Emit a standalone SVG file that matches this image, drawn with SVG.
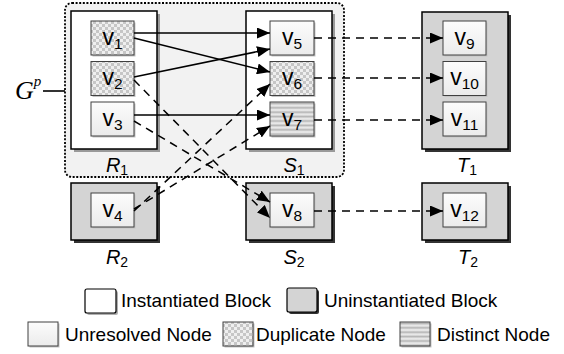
<svg xmlns="http://www.w3.org/2000/svg" width="564" height="354" viewBox="0 0 564 354">
<defs>
<style>
text{font-family:"Liberation Sans",Arial,sans-serif;fill:#000}
.blkI{fill:#fff;stroke:#000;stroke-width:1.5}
.blkU{fill:#d4d4d4;stroke:#000;stroke-width:1.5}
.shI{fill:#9a9a9a}
.shU{fill:#333}
.nsh{fill:#c4c4c4}
.nU{fill:url(#gU);stroke:#404040;stroke-width:1}
.nD{fill:url(#pD);stroke:#404040;stroke-width:1}
.nS{fill:url(#pS);stroke:#404040;stroke-width:1}
.vt{font-size:23px;text-anchor:middle}
.sub{font-size:15.5px}
.bl{font-size:20px;text-anchor:middle}
.bl .it{font-style:italic}
.bl .s{font-size:14px;font-style:normal}
.lg{font-size:19px}
.c{fill:none;stroke:#000;stroke-width:1.5}
.cs{marker-end:url(#ah)}
.cd{stroke-dasharray:8,6;marker-end:url(#ah)}
</style>
<linearGradient id="gU" x1="0" y1="0" x2="0" y2="1">
<stop offset="0" stop-color="#fcfcfc"/>
<stop offset="1" stop-color="#ebebeb"/>
</linearGradient>
<pattern id="pD" width="6" height="6" patternUnits="userSpaceOnUse">
<rect width="6" height="6" fill="#efefef"/>
<rect width="3" height="3" fill="#c6c6c6"/>
<rect x="3" y="3" width="3" height="3" fill="#c6c6c6"/>
</pattern>
<linearGradient id="gS" x1="0" y1="0" x2="0" y2="1">
<stop offset="0" stop-color="#f4f4f4"/>
<stop offset="0.5" stop-color="#b4b4b4"/>
<stop offset="1" stop-color="#f4f4f4"/>
</linearGradient>
<pattern id="pS" width="8" height="4.4" patternUnits="userSpaceOnUse">
<rect width="8" height="4.4" fill="url(#gS)"/>
</pattern>
<marker id="ah" markerUnits="userSpaceOnUse" markerWidth="13" markerHeight="11" refX="13" refY="5.5" orient="auto">
<path d="M0,0 L13,5.5 L0,11 z" fill="#000"/>
</marker>
</defs>

<g id="Gp">
<rect x="65" y="3" width="279" height="174" rx="7" fill="#f2f2f2" stroke="#000" stroke-width="1.8" stroke-dasharray="2,1.6"/>
<line x1="43" y1="91" x2="65" y2="91" stroke="#000" stroke-width="1.6"/>
<text x="15" y="99" style="font-family:'Liberation Serif','Times New Roman',serif;font-style:italic;font-size:26px">G<tspan dy="-13" font-size="15">p</tspan></text>
</g>

<!-- blocks -->
<g id="R1">
<rect class="shI" x="74" y="14" width="86" height="138"/>
<rect class="blkI" x="71" y="11" width="86" height="138"/>
<text class="bl" x="117" y="172"><tspan class="it">R</tspan><tspan class="s" dy="3">1</tspan></text>
</g>
<g id="S1">
<rect class="shI" x="249" y="14" width="86" height="138"/>
<rect class="blkI" x="246" y="11" width="86" height="138"/>
<text class="bl" x="294" y="172"><tspan class="it">S</tspan><tspan class="s" dy="3">1</tspan></text>
</g>
<g id="T1">
<rect class="shU" x="425" y="15" width="86" height="137"/>
<rect class="blkU" x="422" y="12" width="86" height="137"/>
<text class="bl" x="467" y="172"><tspan class="it">T</tspan><tspan class="s" dy="3">1</tspan></text>
</g>
<g id="R2">
<rect class="shU" x="74" y="186" width="86" height="57"/>
<rect class="blkU" x="71" y="183" width="86" height="57"/>
<text class="bl" x="117" y="264"><tspan class="it">R</tspan><tspan class="s" dy="3">2</tspan></text>
</g>
<g id="S2">
<rect class="shU" x="249" y="186" width="86" height="57"/>
<rect class="blkU" x="246" y="183" width="86" height="57"/>
<text class="bl" x="294" y="264"><tspan class="it">S</tspan><tspan class="s" dy="3">2</tspan></text>
</g>
<g id="T2">
<rect class="shU" x="425" y="186" width="86" height="57"/>
<rect class="blkU" x="422" y="183" width="86" height="57"/>
<text class="bl" x="468" y="264"><tspan class="it">T</tspan><tspan class="s" dy="3">2</tspan></text>
</g>

<!-- nodes -->
<g id="v1"><rect class="nsh" x="92.5" y="22.5" width="43" height="34"/><rect class="nD" x="91" y="21" width="43" height="34"/><text class="vt" x="112.5" y="44.5">v<tspan class="sub" dy="4">1</tspan></text></g>
<g id="v2"><rect class="nsh" x="92.5" y="63" width="43" height="34"/><rect class="nD" x="91" y="61.5" width="43" height="34"/><text class="vt" x="112.5" y="85">v<tspan class="sub" dy="4">2</tspan></text></g>
<g id="v3"><rect class="nsh" x="92.5" y="103.5" width="43" height="34"/><rect class="nU" x="91" y="102" width="43" height="34"/><text class="vt" x="112.5" y="125.5">v<tspan class="sub" dy="4">3</tspan></text></g>
<g id="v4"><rect class="nsh" x="92.5" y="194.5" width="43" height="34"/><rect class="nU" x="91" y="193" width="43" height="34"/><text class="vt" x="112.5" y="216.5">v<tspan class="sub" dy="4">4</tspan></text></g>
<g id="v5"><rect class="nsh" x="271.5" y="22.5" width="44" height="34"/><rect class="nU" x="270" y="21" width="44" height="34"/><text class="vt" x="292" y="44.5">v<tspan class="sub" dy="4">5</tspan></text></g>
<g id="v6"><rect class="nsh" x="271.5" y="63" width="44" height="34"/><rect class="nD" x="270" y="61.5" width="44" height="34"/><text class="vt" x="292" y="85">v<tspan class="sub" dy="4">6</tspan></text></g>
<g id="v7"><rect class="nsh" x="271.5" y="103.5" width="44" height="34"/><rect class="nS" x="270" y="102" width="44" height="34"/><text class="vt" x="292" y="125.5">v<tspan class="sub" dy="4">7</tspan></text></g>
<g id="v8"><rect class="nsh" x="271.5" y="194.5" width="44" height="34"/><rect class="nU" x="270" y="193" width="44" height="34"/><text class="vt" x="292" y="216.5">v<tspan class="sub" dy="4">8</tspan></text></g>
<g id="v9"><rect class="nsh" x="444.5" y="22.5" width="43" height="34"/><rect class="nU" x="443" y="21" width="43" height="34"/><text class="vt" x="464.5" y="44.5">v<tspan class="sub" dy="4">9</tspan></text></g>
<g id="v10"><rect class="nsh" x="444.5" y="63" width="43" height="34"/><rect class="nU" x="443" y="61.5" width="43" height="34"/><text class="vt" x="464.5" y="85">v<tspan class="sub" dy="4">10</tspan></text></g>
<g id="v11"><rect class="nsh" x="444.5" y="103.5" width="43" height="34"/><rect class="nU" x="443" y="102" width="43" height="34"/><text class="vt" x="464.5" y="125.5">v<tspan class="sub" dy="4">11</tspan></text></g>
<g id="v12"><rect class="nsh" x="444.5" y="194.5" width="43" height="34"/><rect class="nU" x="443" y="193" width="43" height="34"/><text class="vt" x="464.5" y="216.5">v<tspan class="sub" dy="4">12</tspan></text></g>

<g id="connectors">
<line class="c cs" x1="134" y1="33" x2="270" y2="33"/>
<line class="c cs" x1="134" y1="38" x2="270" y2="72"/>
<line class="c cs" x1="134" y1="77" x2="270" y2="49"/>
<line class="c cs" x1="134" y1="115" x2="270" y2="115"/>
<line class="c cd" x1="134" y1="80" x2="270" y2="218"/>
<line class="c cd" x1="134" y1="121" x2="270" y2="202"/>
<line class="c cd" x1="134" y1="211" x2="270" y2="84"/>
<line class="c cd" x1="134" y1="209" x2="270" y2="126"/>
<line class="c cd" x1="314" y1="38" x2="443" y2="38"/>
<line class="c cd" x1="314" y1="78" x2="443" y2="78"/>
<line class="c cd" x1="314" y1="120" x2="443" y2="120"/>
<line class="c cd" x1="314" y1="211" x2="443" y2="211"/>
</g>

<g id="legend">
<rect x="87" y="291" width="31" height="24" rx="2" fill="#b0b0b0"/>
<rect x="85" y="289" width="31" height="24" rx="2" fill="#fff" stroke="#000" stroke-width="1.2"/>
<text class="lg" x="121" y="307">Instantiated Block</text>
<rect x="289" y="290" width="30" height="24" rx="2" fill="#333"/>
<rect x="287" y="288" width="30" height="24" rx="2" fill="#d4d4d4" stroke="#000" stroke-width="1.2"/>
<text class="lg" x="324" y="307">Uninstantiated Block</text>
<rect x="29.5" y="323.5" width="30" height="24" fill="#c4c4c4"/>
<rect class="nU" x="28" y="322" width="30" height="24"/>
<text class="lg" x="65" y="341">Unresolved Node</text>
<rect x="224.5" y="323.5" width="30" height="24" fill="#c4c4c4"/>
<rect class="nD" x="223" y="322" width="30" height="24"/>
<text class="lg" x="256" y="341">Duplicate Node</text>
<rect x="401.5" y="323.5" width="30" height="24" fill="#c4c4c4"/>
<rect class="nS" x="400" y="322" width="30" height="24"/>
<text class="lg" x="437" y="341">Distinct Node</text>
</g>
</svg>
